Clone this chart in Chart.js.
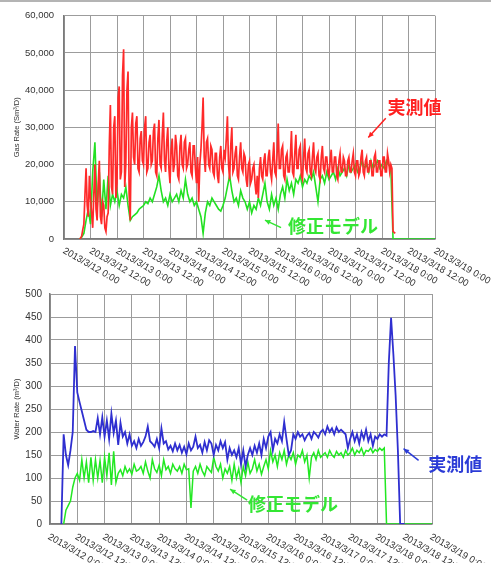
<!DOCTYPE html>
<html>
<head>
<meta charset="utf-8">
<script src="https://cdn.jsdelivr.net/npm/chart.js@4.4.1/dist/chart.umd.min.js"></script>
<style>
  html, body { margin: 0; padding: 0; background: #fff; }
  body { width: 491px; height: 563px; position: relative; overflow: hidden; }
  #topline { position: absolute; left: 0; top: 0; width: 491px; height: 2px; background: #b4b4b4; }
  #gasChart { position: absolute; left: 0; top: 0; }
  #waterChart { position: absolute; left: 0; top: 280px; }
</style>
</head>
<body>
<div id="topline"></div>
<canvas id="gasChart" width="491" height="300"></canvas>
<canvas id="waterChart" width="491" height="283"></canvas>
<script>
// hours after 2013/3/12 0:00
var xTickHours = [0, 12, 24, 36, 48, 60, 72, 84, 96, 108, 120, 132, 144, 156, 168];
var xTickLabels = [
    '2013/3/12 0:00', '2013/3/12 12:00', '2013/3/13 0:00', '2013/3/13 12:00',
    '2013/3/14 0:00', '2013/3/14 12:00', '2013/3/15 0:00', '2013/3/15 12:00',
    '2013/3/16 0:00', '2013/3/16 12:00', '2013/3/17 0:00', '2013/3/17 12:00',
    '2013/3/18 0:00', '2013/3/18 12:00', '2013/3/19 0:00'
];

// measured gas rate, every half hour from 7:00 (one row = 6 h)
var gasMeasuredStart = 7;
var gasMeasured = [
    0, 200, 800, 2500, 4000, 12000, 19000, 9000, 6000, 17000, 11000, 7000,
    3000, 12000, 20000, 8000, 5000, 15000, 21000, 6000, 4000, 10000, 9000, 3000,
    2000, 6000, 7000, 25000, 36000, 14000, 12000, 30000, 33000, 11000, 15000, 38000,
    41000, 16000, 18000, 44000, 51000, 14000, 20000, 40000, 45000, 12000, 5000, 30000,
    34000, 22000, 20000, 31000, 33000, 19000, 18000, 27000, 29000, 21000, 20000, 30000,
    33000, 18000, 19000, 26000, 28000, 20000, 21000, 29000, 31000, 18000, 17000, 27000,
    32000, 20000, 19000, 28000, 34000, 21000, 18000, 26000, 30000, 19000, 15000, 24000,
    27000, 18000, 20000, 28000, 25000, 17000, 16000, 25000, 28000, 20000, 19000, 26000,
    27000, 19000, 20000, 24000, 26000, 18000, 17000, 25000, 25000, 19000, 15000, 22000,
    10000, 20000, 24000, 30000, 38000, 22000, 18000, 26000, 27000, 20000, 19000, 25000,
    24000, 18000, 17000, 23000, 23000, 17000, 15000, 22000, 25000, 19000, 18000, 24000,
    22000, 27000, 33000, 20000, 16000, 25000, 30000, 18000, 19000, 23000, 25000, 17000,
    16000, 22000, 26000, 19000, 18000, 23000, 22000, 16000, 14000, 20000, 21000, 15000,
    16000, 19000, 20000, 15000, 12000, 17000, 11000, 19000, 22000, 17000, 16000, 21000,
    23000, 17000, 17000, 22000, 24000, 18000, 16000, 21000, 26000, 18000, 17000, 23000,
    31000, 19000, 19000, 24000, 25000, 17000, 16000, 22000, 23000, 18000, 18000, 22000,
    29000, 18000, 17000, 23000, 28000, 19000, 19000, 24000, 25000, 17000, 16000, 22000,
    27000, 19000, 18000, 23000, 24000, 18000, 17000, 22000, 26000, 19000, 18000, 22000,
    23000, 17000, 16000, 22000, 25000, 19000, 18000, 22000, 22000, 18000, 17000, 21000,
    24000, 18000, 18000, 22000, 22000, 17000, 16000, 21000, 23000, 18000, 18000, 22000,
    21000, 17000, 17000, 21000, 22000, 18000, 18000, 21000, 23000, 18000, 17000, 21000,
    21000, 17000, 18000, 22000, 24000, 18000, 17000, 21000, 22000, 18000, 18000, 21000,
    21000, 17000, 17000, 22000, 23000, 18000, 18000, 21000, 21000, 17000, 17000, 22000,
    22000, 18000, 18000, 23000, 21000, 18000, 20000, 19000, 2000, 1800, 1500
];

// model gas rate, every hour from 7:00
var gasModelStart = 7;
var gasModel = [
    0, 500, 1500, 5000, 8000, 4000, 18000, 26000, 8000, 18000, 6000, 16000,
    8000, 17000, 9000, 12000, 10000, 13000, 9000, 12000, 11000, 14000, 9000, 5000,
    6000, 6500, 7000, 8000, 8500, 9000, 10000, 9500, 11000, 10000, 12000, 14000,
    17000, 13000, 10000, 11000, 9000, 12000, 10000, 11000, 12000, 10000, 13000, 11000,
    16000, 12000, 10000, 11000, 9000, 10000, 8000, 6000, 1500, 7000, 10000, 9000,
    11000, 10000, 9000, 8000, 7500, 9000, 11000, 14000, 17000, 13000, 10000, 11000,
    9000, 13000, 11000, 10000, 8000, 10000, 7000, 9000, 8000, 11000, 9000, 12000,
    15000, 10000, 8000, 12000, 9000, 11000, 8000, 12000, 14000, 11000, 16000, 13000,
    15000, 12000, 16000, 15000, 17000, 14000, 16000, 15000, 17000, 16000, 18000, 14000,
    10000, 16000, 17000, 15000, 18000, 16000, 17000, 18000, 16000, 19000, 17000, 18000,
    19000, 17000, 20000, 18000, 19000, 20000, 18000, 19000, 21000, 19000, 20000, 18000,
    21000, 19000, 20000, 21000, 19000, 20000, 19000, 21000, 20000, 19000, 0, 0,
    0, 0, 0, 0, 0, 0, 0, 0, 0, 0, 0, 0,
    0, 0, 0, 0, 0, 0
];

// water rate, every hour
var waterMeasuredStart = 5;
var waterMeasured = [
    0, 195, 150, 128, 160, 200, 387, 286, 265, 245, 225, 205,
    200, 200, 202, 200, 230, 195, 232, 190, 225, 185, 240, 198,
    225, 172, 220, 190, 200, 175, 195, 170, 180, 165, 185, 170,
    178, 190, 212, 180, 175, 168, 185, 165, 208, 175, 180, 162,
    170, 158, 175, 160, 172, 155, 168, 152, 175, 160, 168, 190,
    165, 172, 155, 178, 160, 182, 175, 150, 172, 160, 180, 165,
    178, 140, 165, 150, 160, 145, 165, 130, 160, 125, 150, 165,
    150, 170, 155, 175, 150, 185, 165, 190, 200, 160, 185, 175,
    195, 180, 222, 185, 150, 160, 195, 185, 200, 190, 195, 182,
    192, 198, 185, 200, 195, 188, 200, 205, 195, 212, 200, 208,
    195, 210, 200, 205, 200, 195, 165, 185, 200, 180, 195, 175,
    200, 185, 205, 180, 195, 170, 190, 185, 195, 190, 195, 192,
    350, 448, 370, 280, 160, 0, 0, 0
];
var waterModelStart = 6;
var waterModel = [
    0, 30, 40, 50, 80, 100, 110, 95, 140, 100, 135, 90,
    145, 95, 140, 100, 138, 90, 145, 105, 155, 85, 158, 90,
    110, 118, 105, 125, 112, 120, 108, 130, 115, 118, 125, 110,
    135, 115, 100, 140, 120, 112, 128, 105, 140, 118, 125, 110,
    130, 120, 115, 125, 110, 130, 118, 120, 35, 115, 125, 110,
    130, 115, 105, 125, 118, 112, 145, 125, 115, 130, 100, 120,
    110, 125, 95, 130, 100, 120, 90, 125, 105, 135, 110, 120,
    140, 115, 130, 108, 125, 140, 120, 160, 135, 150, 125, 155,
    140, 160, 130, 150, 140, 155, 130, 150, 145, 160, 135, 150,
    100, 145, 155, 140, 160, 145, 150, 155, 145, 160, 150, 145,
    158, 150, 155, 145, 160, 150, 155, 165, 150, 160, 155, 165,
    150, 160, 158, 165, 155, 162, 158, 165, 160, 165, 0, 0,
    0, 0, 0, 0, 0, 0, 0, 0, 0, 0, 0, 0,
    0, 0, 0, 0, 0, 0, 0
];

Chart.defaults.font.family = '"Liberation Sans", Arial, sans-serif';

function toPoints(start, step, values) {
    return values.map(function (v, i) { return { x: start + i * step, y: v }; });
}

// x labels run down to the right, starting at the tick
function slantedTicks(dx, dy) {
    return {
        id: 'slantedTicks',
        afterDraw: function (chart) {
            var xs = chart.scales.x;
            var ctx = chart.ctx;
            ctx.save();
            ctx.font = '9.5px "Liberation Sans", Arial, sans-serif';
            ctx.fillStyle = '#333';
            ctx.textAlign = 'left';
            ctx.textBaseline = 'top';
            xTickLabels.forEach(function (lab, i) {
                ctx.save();
                ctx.translate(xs.getPixelForValue(xTickHours[i]) + dx, xs.top + dy);
                ctx.rotate(30 * Math.PI / 180);
                ctx.fillText(lab, 0, 0);
                ctx.restore();
            });
            ctx.restore();
        }
    };
}

// text + arrow notes, placed in data units
function callouts(items) {
    return {
        id: 'callouts',
        afterDraw: function (chart) {
            var ctx = chart.ctx, xs = chart.scales.x, ys = chart.scales.y;
            items.forEach(function (it) {
                var fx = xs.getPixelForValue(it.from[0]), fy = ys.getPixelForValue(it.from[1]);
                var tx = xs.getPixelForValue(it.to[0]), ty = ys.getPixelForValue(it.to[1]);
                var a = Math.atan2(ty - fy, tx - fx);
                ctx.save();
                ctx.strokeStyle = it.color;
                ctx.fillStyle = it.color;
                ctx.lineWidth = 1.5;
                ctx.beginPath();
                ctx.moveTo(fx, fy);
                ctx.lineTo(tx, ty);
                ctx.stroke();
                ctx.beginPath();
                ctx.moveTo(tx, ty);
                ctx.lineTo(tx - 6 * Math.cos(a - 0.45), ty - 6 * Math.sin(a - 0.45));
                ctx.lineTo(tx - 6 * Math.cos(a + 0.45), ty - 6 * Math.sin(a + 0.45));
                ctx.closePath();
                ctx.fill();
                ctx.font = 'bold 18px "Noto Sans CJK JP", sans-serif';
                ctx.textAlign = 'left';
                ctx.textBaseline = 'middle';
                ctx.fillText(it.text, xs.getPixelForValue(it.at[0]), ys.getPixelForValue(it.at[1]));
                ctx.restore();
            });
        }
    };
}

function makeChart(elementId, datasets, yOpts, box, extraPlugins) {
    var ctx = document.getElementById(elementId).getContext('2d');
    var gridColor = '#9c9c9c';
    var borderColor = '#7a7a7a';

    return new Chart(ctx, {
        type: 'line',
        data: { datasets: datasets },
        options: {
            responsive: false,
            animation: false,
            devicePixelRatio: 1,
            layout: { padding: { top: box.top, right: box.right, left: 0, bottom: 0 } },
            plugins: {
                legend: { display: false },
                tooltip: { enabled: false }
            },
            scales: {
                x: {
                    type: 'linear',
                    min: 0,
                    max: 168,
                    ticks: { display: false, stepSize: 12 },
                    grid: { color: gridColor, drawTicks: false },
                    border: { color: borderColor, width: 1.5 },
                    afterFit: function (s) { s.height = box.xHeight; }
                },
                y: {
                    min: 0,
                    max: yOpts.max,
                    ticks: {
                        stepSize: yOpts.step,
                        padding: yOpts.padding,
                        color: '#333',
                        font: { size: yOpts.fontSize },
                        callback: function (v) { return v.toLocaleString('en-US'); }
                    },
                    grid: { color: gridColor, drawTicks: false },
                    border: { color: borderColor, width: 1.5 },
                    title: {
                        display: true,
                        text: yOpts.title,
                        color: '#333',
                        font: { size: 7.5 },
                        padding: { top: 12, bottom: 0 }
                    },
                    afterFit: function (s) { s.width = box.yWidth; }
                }
            }
        },
        plugins: extraPlugins
    });
}

makeChart('gasChart', [
    {
        label: '実測値',
        data: toPoints(gasMeasuredStart, 0.5, gasMeasured),
        borderColor: '#ff2a2a',
        borderWidth: 1.7,
        pointRadius: 0,
        tension: 0
    },
    {
        label: '修正モデル',
        data: toPoints(gasModelStart, 1, gasModel),
        borderColor: '#22e022',
        borderWidth: 1.6,
        pointRadius: 0,
        tension: 0
    }
], { max: 60000, step: 10000, padding: 10, fontSize: 9.5, title: 'Gas Rate (Sm³/D)' },
   { top: 14, right: 56, xHeight: 61, yWidth: 64 },
   [slantedTicks(2, 7), callouts([
       { text: '実測値', color: '#ff2020', at: [146.5, 35300], from: [145.7, 32450], to: [137.8, 27280] },
       { text: '修正モデル', color: '#33e633', at: [101.4, 3330], from: [98.3, 3070], to: [91.0, 5070] }
   ])]);

makeChart('waterChart', [
    {
        label: '実測値',
        data: toPoints(waterMeasuredStart, 1, waterMeasured),
        borderColor: '#2f2fd0',
        borderWidth: 1.8,
        pointRadius: 0,
        tension: 0
    },
    {
        label: '修正モデル',
        data: toPoints(waterModelStart, 1, waterModel),
        borderColor: '#22e822',
        borderWidth: 1.5,
        pointRadius: 0,
        tension: 0
    }
], { max: 500, step: 50, padding: 8, fontSize: 10, title: 'Water Rate (m³/D)' },
   { top: 13, right: 59, xHeight: 39, yWidth: 50 },
   [slantedTicks(1, 8), callouts([
       { text: '実測値', color: '#2b3bd6', at: [166.4, 130.8], from: [162.1, 138.4], to: [155.5, 163.7] },
       { text: '修正モデル', color: '#33e633', at: [87.1, 43.2], from: [86.7, 51.9], to: [79.2, 75.7] }
   ])]);
</script>
</body>
</html>
